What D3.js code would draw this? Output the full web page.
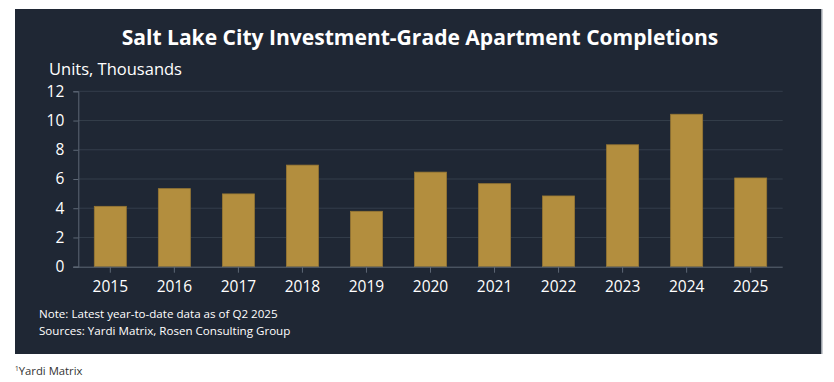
<!DOCTYPE html>
<html><head><meta charset="utf-8">
<script src="https://cdn.jsdelivr.net/npm/d3@7"></script>
<style>
html,body{margin:0;padding:0;background:#fff;}
svg{display:block;}
</style></head>
<body>
<svg id="chart" width="834" height="382"></svg>
<script>
const years = ["2015","2016","2017","2018","2019","2020","2021","2022","2023","2024","2025"];
const completions = [4.13, 5.34, 4.98, 6.95, 3.79, 6.47, 5.68, 4.84, 8.34, 10.43, 6.07];
const yTicks = [0, 2, 4, 6, 8, 10, 12];
const titleText = "Salt Lake City Investment-Grade Apartment Completions";
const yLabel = "Units, Thousands";
const notes = ["Note: Latest year-to-date data as of Q2 2025", "Sources: Yardi Matrix, Rosen Consulting Group"];
const footer = "Yardi Matrix";

const svg = d3.select("#chart");
const font = "'Open Sans', 'DejaVu Sans', sans-serif";

svg.append("rect").attr("x", 15).attr("y", 9).attr("width", 807).attr("height", 345).attr("fill", "#1f2734");
svg.append("rect").attr("x", 821).attr("y", 9).attr("width", 1.5).attr("height", 345).attr("fill", "#9aa0a8");

const x = d3.scaleBand().domain(years).range([78.3, 782.7]).paddingInner(0.5).paddingOuter(0.25);
const y = d3.scaleLinear().domain([0, 12]).range([266.7, 91.3]);

// grid
svg.append("g").selectAll("line").data(yTicks.filter(d => d > 0)).join("line")
  .attr("x1", 78.3).attr("x2", 782.7)
  .attr("y1", d => y(d)).attr("y2", d => y(d))
  .attr("stroke", "#343e4b").attr("stroke-width", 1);

// bars
svg.append("g").selectAll("rect").data(years).join("rect")
  .attr("x", d => x(d)).attr("width", x.bandwidth())
  .attr("y", (d, i) => y(completions[i]))
  .attr("height", (d, i) => y(0) - y(completions[i]))
  .attr("fill", "#b38e3e").attr("stroke", "#977734").attr("stroke-width", 0.8);

// y axis
const yAxis = svg.append("g").attr("transform", "translate(78.3,0)")
  .call(d3.axisLeft(y).tickValues(yTicks).tickSize(5).tickPadding(9).tickFormat(d3.format("d")));
yAxis.selectAll("path,line").attr("stroke", "#5d6775");
yAxis.selectAll("text").attr("fill", "#fff").attr("font-family", font).attr("font-size", 15.5);

// x axis
const xAxis = svg.append("g").attr("transform", "translate(0,266.7)")
  .call(d3.axisBottom(x).tickSize(6).tickSizeOuter(0).tickPadding(8));
xAxis.select("path.domain").attr("d", "M73.3,0.5H782.7");
xAxis.selectAll("path,line").attr("stroke", "#5d6775");
xAxis.selectAll("text").attr("fill", "#fff").attr("font-family", font).attr("font-size", 15.5);

// title
const t = svg.append("text").attr("x", 420).attr("y", 44.5).attr("text-anchor", "middle")
  .attr("fill", "#fff").attr("font-family", font).attr("font-weight", 700).attr("font-size", 20)
  .text(titleText);
const tw = t.node().getComputedTextLength();
t.attr("font-size", 20 * 597 / tw);

const yl = svg.append("text").attr("x", 49).attr("y", 75).attr("fill", "#fff")
  .attr("font-family", font).attr("font-size", 15).text(yLabel);
yl.attr("font-size", 15 * 133 / yl.node().getComputedTextLength());

svg.append("g").selectAll("text").data(notes).join("text")
  .attr("x", 39).attr("y", (d, i) => 318 + i * 16.5)
  .attr("fill", "#fff").attr("font-family", font).attr("font-size", 11.6).text(d => d);

const f = svg.append("text").attr("x", 15).attr("y", 375).attr("fill", "#333")
  .attr("font-family", font).attr("font-size", 11.3);
f.append("tspan").attr("font-size", 6.5).attr("dy", -4).text("1");
f.append("tspan").attr("dy", 4).text(footer);
</script>
</body></html>
